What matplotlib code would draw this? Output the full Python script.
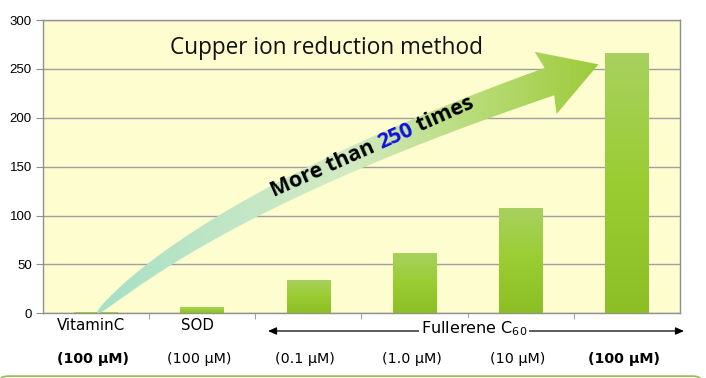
import numpy as np
import matplotlib
matplotlib.use("Agg")
import matplotlib.pyplot as plt
from matplotlib.colors import LinearSegmentedColormap
from matplotlib.path import Path
from matplotlib.patches import PathPatch, FancyBboxPatch, FancyArrowPatch

# data
categories = ["VitaminC", "SOD", "", "", "", ""]
doses = ["(100 \u03bcM)", "(100 \u03bcM)", "(0.1 \u03bcM)", "(1.0 \u03bcM)", "(10 \u03bcM)", "(100 \u03bcM)"]
dose_bold = [True, False, False, False, False, True]
values = [1, 6, 34, 62, 108, 266]
yticks = [0, 50, 100, 150, 200, 250, 300]

title = "Cupper ion reduction method"

fig = plt.figure(figsize=(7.06, 3.78), dpi=100)
fig.patch.set_facecolor("white")

# light green box at bottom
box = FancyBboxPatch((0.0, -0.05), 0.993, 0.055, boxstyle="round,pad=0,rounding_size=0.012",
                     transform=fig.transFigure, facecolor="#f4f9ee", edgecolor="#9bbb59",
                     linewidth=1.2, zorder=0)
fig.patches.append(box)

ax = fig.add_axes([43 / 706, (378 - 313.3) / 378, (680 - 43) / 706, (313.3 - 20) / 378])
ax.set_facecolor("#fefdd0")
ax.set_xlim(-0.5, len(values) - 0.5)
ax.set_ylim(0, 300)
ax.set_yticks(yticks)
ax.yaxis.grid(True, color="#a0a0a0", linewidth=1.0)
ax.set_axisbelow(True)
for s in ax.spines.values():
    s.set_color("#909090")
    s.set_linewidth(1.0)
ax.tick_params(axis="y", length=5, color="#909090", labelsize=9.5, pad=3)
for lab in ax.get_yticklabels():
    lab.set_family("Liberation Sans")
ax.set_xticks([])
ax.set_xticks(np.arange(0.5, len(values) - 0.5), minor=True)
ax.tick_params(axis="x", which="minor", length=4, color="#909090", direction="out")

# bars with vertical gradient
bar_cmap = LinearSegmentedColormap.from_list("bar", ["#8bbf25", "#9acd32", "#a8d15f"])
grad = np.linspace(0, 1, 256).reshape(-1, 1)
x = np.arange(len(values))
bars = ax.bar(x, values, width=0.41, color="none", edgecolor="none", zorder=3)
for b in bars:
    bx, by = b.get_x(), b.get_y()
    bw, bh = b.get_width(), b.get_height()
    im = ax.imshow(grad, cmap=bar_cmap, aspect="auto", origin="lower",
                   extent=[bx, bx + bw, by, by + bh], zorder=3)
    im.set_clip_path(b)
ax.set_xlim(-0.5, len(values) - 0.5)
ax.set_ylim(0, 300)

# curved arrow, built in pixel space
fig.canvas.draw()
tr = ax.transData
p0 = tr.transform((0.01, 0))
pc = tr.transform((1.2, 120))
p2 = tr.transform((4.27, 237))
t = np.linspace(0, 1, 120)
cen = ((1 - t) ** 2)[:, None] * p0 + (2 * t * (1 - t))[:, None] * pc + (t ** 2)[:, None] * p2
d = np.gradient(cen, axis=0)
nrm = np.stack([-d[:, 1], d[:, 0]], axis=1)
nrm /= np.linalg.norm(nrm, axis=1)[:, None]
w = 14.5 * t ** 0.45
upper = cen + nrm * w[:, None]
lower = cen - nrm * w[:, None]
tang = d[-1] / np.linalg.norm(d[-1])
n_end = nrm[-1]
head_l = p2 + n_end * 33 - tang * 4
head_r = p2 - n_end * 33 - tang * 4
tip = p2 + tang * 52
verts = np.vstack([lower, head_r, tip, head_l, upper[::-1], lower[:1]])
arrow = PathPatch(Path(verts), transform=None, facecolor="none", edgecolor="none", zorder=4)
ax.add_patch(arrow)
arr_cmap = LinearSegmentedColormap.from_list("arr", ["#a6e0c6", "#c0e6c6", "#d3ebc3", "#b8dc7a", "#9dcb3a"])
xmin, ymin = verts.min(axis=0)
xmax, ymax = verts.max(axis=0)
inv = ax.transData.inverted()
e0 = inv.transform((xmin, ymin))
e1 = inv.transform((xmax, ymax))
im = ax.imshow(np.linspace(0, 1, 256).reshape(1, -1), cmap=arr_cmap, aspect="auto",
               extent=[e0[0], e1[0], e0[1], e1[1]], zorder=4, origin="lower")
im.set_clip_path(arrow)
ax.set_xlim(-0.5, len(values) - 0.5)
ax.set_ylim(0, 300)

# arrow text, three pieces along a rotated baseline
ang_deg = 24
ang = np.deg2rad(ang_deg)
fs = 15.5
r = fig.canvas.get_renderer()
x0, y0 = 274, 378 - 197
for part, col in [("More than ", "black"), ("250", "#1010e0"), (" times", "black")]:
    fig.text(x0 / 706, y0 / 378, part, color=col, ha="left", va="baseline",
             fontsize=fs, fontweight="bold", rotation=ang_deg, rotation_mode="anchor",
             family="Open Sans", zorder=6)
    tmp = fig.text(0, 0, part.replace(" ", "\u00a0"), fontsize=fs, fontweight="bold",
                   family="Open Sans")
    ww = tmp.get_window_extent(r).width
    tmp.remove()
    x0 += ww * np.cos(ang)
    y0 += ww * np.sin(ang)

# title
fig.text(327 / 706, 1 - 48 / 378, title, ha="center", va="center", fontsize=16.3,
         family="Open Sans", color="#111111")

# x labels
for i, c in enumerate(categories):
    xp = tr.transform((i, 0))[0]
    if c:
        fig.text((xp - 5) / 706, 1 - 326 / 378, c, ha="center", va="center", fontsize=10.8,
                 family="DejaVu Sans")
    bold = dose_bold[i]
    fig.text((xp - 3) / 706, 1 - 359 / 378, doses[i], ha="center", va="center",
             fontsize=10.3, family="DejaVu Sans",
             fontweight="bold" if bold else "normal")

# fullerene arrow
fig.add_artist(FancyArrowPatch((268 / 706, 1 - 331 / 378), (684 / 706, 1 - 331 / 378),
               transform=fig.transFigure, arrowstyle="<|-|>,head_length=5,head_width=2.2",
               color="black", linewidth=0.9, shrinkA=0, shrinkB=0))
fig.text(474 / 706, 1 - 329 / 378, "Fullerene C$_{60}$", ha="center", va="center", fontsize=11.5,
         family="DejaVu Sans", bbox=dict(facecolor="white", edgecolor="none", pad=1.5))

fig.savefig("out.png", dpi=100, facecolor="white")
